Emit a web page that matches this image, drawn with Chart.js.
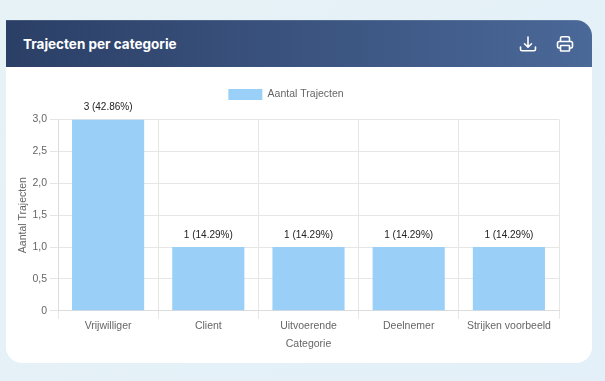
<!DOCTYPE html>
<html><head><meta charset="utf-8">
<style>
html,body{margin:0;padding:0;width:605px;height:381px;overflow:hidden;background:linear-gradient(135deg,#e6f2f5,#e3f0f9);font-family:"Liberation Sans",Arial,sans-serif}
#card{position:absolute;left:6px;top:20px;width:586px;height:343px;background:#fff;border-radius:0 16px 16px 16px;overflow:hidden}
#head{position:absolute;left:0;top:0;width:586px;height:47px;background:linear-gradient(90deg,#2b3f66,#4a6898);box-shadow:inset 0 1px 0 rgba(255,255,255,.12)}
#title{position:absolute;left:17px;top:15px;color:#fff;font:700 13.5px/18px Inter,Roboto,sans-serif;white-space:nowrap}
svg.ic{position:absolute;fill:none;stroke:#fff;stroke-width:1.6;stroke-linecap:round;stroke-linejoin:round}
#wrap{position:absolute;left:0;top:47px;width:586px;height:296px}
</style></head><body>
<div id="card">
<div id="head"><div id="title">Trajecten per categorie</div>
<svg class="ic" style="left:513px;top:15px" width="18" height="18" viewBox="0 0 18 18"><path d="M9 2v10M5.5 8.8 9 12.2l3.5-3.4M1.5 12v2.2c0 1 .7 1.6 1.6 1.6h11.8c.9 0 1.6-.6 1.6-1.6V12"/></svg>
<svg class="ic" style="left:550px;top:15px" width="18" height="18" viewBox="0 0 18 18"><path d="M4.5 6.5V3.2c0-.9.6-1.5 1.5-1.5h6c.9 0 1.5.6 1.5 1.5v3.3M4.5 13H3c-.9 0-1.5-.6-1.5-1.5V8.300c0-1 .8-1.800 1.800-1.800h11.400c1 0 1.800.8 1.800 1.800v3.200c0 .9-.6 1.500-1.500 1.500h-1.500M5 10.500h8c.3 0 .5.200.5.500v4.500c0 .3-.2.500-.5.500H5c-.3 0-.5-.2-.5-.5V11c0-.3.200-.5.500-.5z"/></svg>
</div>
<div id="wrap"><canvas id="c" width="586" height="296"></canvas></div>
</div>
<script src="https://cdn.jsdelivr.net/npm/chart.js@4/dist/chart.umd.min.js"></script>
<script>
const categories=["Vrijwilliger","Client","Uitvoerende","Deelnemer","Strijken voorbeeld"];
const values=[3,1,1,1,1];
const percentLabels=["42.86%","14.29%","14.29%","14.29%","14.29%"];
const yTicks=["0","0,5","1,0","1,5","2,0","2,5","3,0"];
const seriesName="Aantal Trajecten";
const xTitle="Categorie";
const FONT='"Liberation Sans",Arial,sans-serif';
const legendGap={id:"legendGap",beforeInit(ch){
  const f=ch.legend.fit;
  ch.legend.fit=function(){f.call(this);this.height+=9.5;};}};
const valueLabels={id:"valueLabels",afterDatasetsDraw(ch){
  const {ctx}=ch;const m=ch.getDatasetMeta(0);
  ctx.save();ctx.font="10px "+FONT;ctx.fillStyle="#222";ctx.textAlign="center";ctx.textBaseline="bottom";
  m.data.forEach((b,i)=>ctx.fillText(values[i]+" ("+percentLabels[i]+")",b.x,b.y-7));
  ctx.restore();}};
new Chart(document.getElementById("c"),{type:"bar",
 data:{labels:categories,datasets:[{label:seriesName,data:values,backgroundColor:"#9ad0f7",borderWidth:0}]},
 plugins:[legendGap,valueLabels],
 options:{responsive:false,animation:false,
  layout:{padding:{top:0,right:33,bottom:13,left:7}},
  plugins:{tooltip:{enabled:false},
   legend:{position:"top",labels:{boxWidth:34,boxHeight:11,padding:22,color:"#666",font:{family:FONT,size:10.5}}}},
  scales:{
   x:{grid:{color:"#e6e6e6",offset:true},border:{color:"#dcdcdc"},ticks:{color:"#666",font:{family:FONT,size:10.5},maxRotation:0,padding:1},
      title:{display:true,text:xTitle,color:"#666",font:{family:FONT,size:10.5},padding:{top:4,bottom:0}}},
   y:{min:0,max:3,grid:{color:"#e6e6e6"},border:{color:"#dcdcdc"},
      ticks:{stepSize:.5,color:"#666",font:{family:FONT,size:10.5},padding:3,callback:(v,i)=>yTicks[i]},
      title:{display:true,text:seriesName,color:"#666",font:{family:FONT,size:10.5},padding:{top:4,bottom:0}},
      afterFit(s){s.width=45;}}
  }}});
</script></body></html>
